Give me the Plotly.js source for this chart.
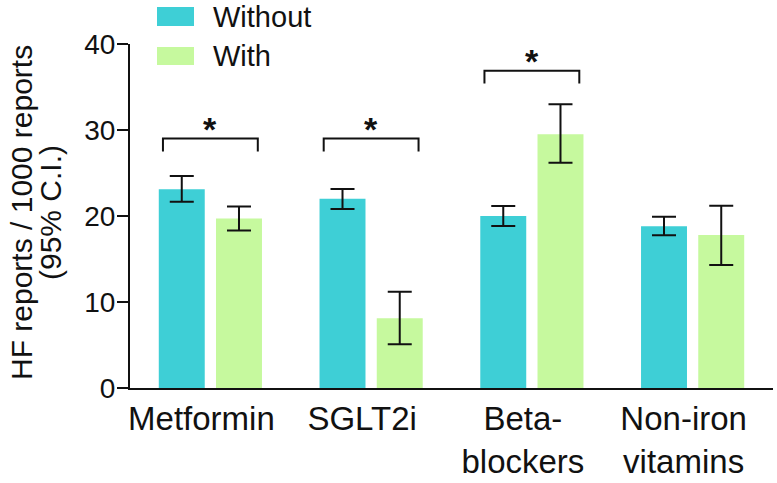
<!DOCTYPE html>
<html>
<head>
<meta charset="utf-8">
<script src="https://cdn.plot.ly/plotly-3.0.1.min.js"></script>
<style>html,body{margin:0;padding:0;background:#fff;}#chart{width:777px;height:483px;}</style>
</head>
<body>
<div id="chart"></div>
<script>
// ---- data ----
var categories = ['Metformin', 'SGLT2i', 'Beta-<br>blockers', 'Non-iron<br>vitamins'];
var seriesNames = ['Without', 'With'];
var withoutValues = [23.1, 22.0, 20.0, 18.8];
var withoutLower = [21.65, 20.8, 18.85, 17.75];
var withoutUpper = [24.65, 23.15, 21.15, 19.9];
var withValues = [19.7, 8.1, 29.5, 17.8];
var withLower = [18.3, 5.1, 26.2, 14.3];
var withUpper = [21.1, 11.2, 33.0, 21.2];
var sigCategories = [0, 1, 2];
var sigLevels = [29.0, 29.0, 36.9];
var yTicks = [0, 10, 20, 30, 40];
var yTitleLines = ['HF reports / 1000 reports', '(95% C.I.)'];

var colWithout = '#3ECFD6';
var colWith = '#C6F99E';
var FONT = '"Liberation Sans", Arial, Helvetica, sans-serif';

function diff(a, b) { return a.map(function (v, i) { return v - b[i]; }); }

var xIdx = categories.map(function (c, i) { return i; });

var traces = [
  {
    type: 'bar', name: seriesNames[0], x: xIdx, y: withoutValues,
    marker: {color: colWithout, line: {width: 0}},
    error_y: {type: 'data', symmetric: false, array: diff(withoutUpper, withoutValues),
      arrayminus: diff(withoutValues, withoutLower), color: '#111', thickness: 2, width: 12},
    showlegend: false, hoverinfo: 'y'
  },
  {
    type: 'bar', name: seriesNames[1], x: xIdx, y: withValues,
    marker: {color: colWith, line: {width: 0}},
    error_y: {type: 'data', symmetric: false, array: diff(withUpper, withValues),
      arrayminus: diff(withValues, withLower), color: '#111', thickness: 2, width: 12},
    showlegend: false, hoverinfo: 'y'
  }
];

var plotL = 130, plotR = 4, plotT = 44, plotB = 95;
var plotW = 777 - plotL - plotR, plotH = 483 - plotT - plotB;
function px2x(p) { return (p - plotL) / plotW; }
function py2y(p) { return 1 + (plotT - p) / plotH; }

var shapes = [];
var annotations = [];
var half = 0.295, drop = 1.5;
sigCategories.forEach(function (c, k) {
  var lv = sigLevels[k];
  shapes.push({type: 'path', xref: 'x', yref: 'y',
    path: 'M' + (c - half) + ',' + (lv - drop) + ' L' + (c - half) + ',' + lv +
          ' L' + (c + half) + ',' + lv + ' L' + (c + half) + ',' + (lv - drop),
    line: {color: '#111', width: 2}});
  annotations.push({xref: 'x', yref: 'y', x: c, y: lv, text: '<b>*</b>', showarrow: false,
    xanchor: 'center', yanchor: 'bottom', yshift: -11, font: {family: FONT, size: 34, color: '#111'}});
});

// custom legend (large swatches)
var legRows = [{y0: 7, y1: 26, color: colWithout}, {y0: 47, y1: 65, color: colWith}];
legRows.forEach(function (r, i) {
  shapes.push({type: 'rect', xref: 'paper', yref: 'paper', x0: px2x(157), x1: px2x(194),
    y0: py2y(r.y1), y1: py2y(r.y0), fillcolor: r.color, line: {width: 0}});
  annotations.push({xref: 'paper', yref: 'paper', x: px2x(211), y: py2y((r.y0 + r.y1) / 2 + 0.5),
    text: seriesNames[i], showarrow: false, xanchor: 'left', yanchor: 'middle',
    font: {family: FONT, size: 29, color: '#111'}});
});

// y-axis title (two tightly spaced lines)
var titleX = [21, 50];
yTitleLines.forEach(function (t, i) {
  annotations.push({xref: 'paper', yref: 'paper', x: px2x(titleX[i]), y: py2y(213),
    text: t, showarrow: false, textangle: -90, xanchor: 'center', yanchor: 'middle',
    font: {family: FONT, size: 30, color: '#111'}});
});

var layout = {
  width: 777, height: 483,
  margin: {l: plotL, r: plotR, t: plotT, b: plotB, pad: 0},
  paper_bgcolor: '#fff', plot_bgcolor: '#fff',
  barmode: 'group', bargap: 0.288, bargroupgap: 0.197,
  showlegend: false,
  font: {family: FONT, color: '#111'},
  xaxis: {
    type: 'linear', range: [-0.5, 3.5], tickmode: 'array', tickvals: xIdx, ticktext: categories,
    showline: true, linecolor: '#111', linewidth: 2, ticks: '', showgrid: false, zeroline: false,
    tickfont: {family: FONT, size: 33, color: '#111'}, ticklabelshift: -9, fixedrange: true
  },
  yaxis: {
    range: [0, 40], tickmode: 'array', tickvals: yTicks, ticktext: yTicks.map(String),
    showline: true, linecolor: '#111', linewidth: 2, ticks: 'outside', ticklen: 11, tickwidth: 2,
    tickcolor: '#111', showgrid: false, zeroline: false,
    tickfont: {family: FONT, size: 28, color: '#111'}, ticklabelstandoff: -4,
    fixedrange: true
  },
  shapes: shapes,
  annotations: annotations
};

Plotly.newPlot('chart', traces, layout, {displayModeBar: false, staticPlot: true});
</script>
</body>
</html>
